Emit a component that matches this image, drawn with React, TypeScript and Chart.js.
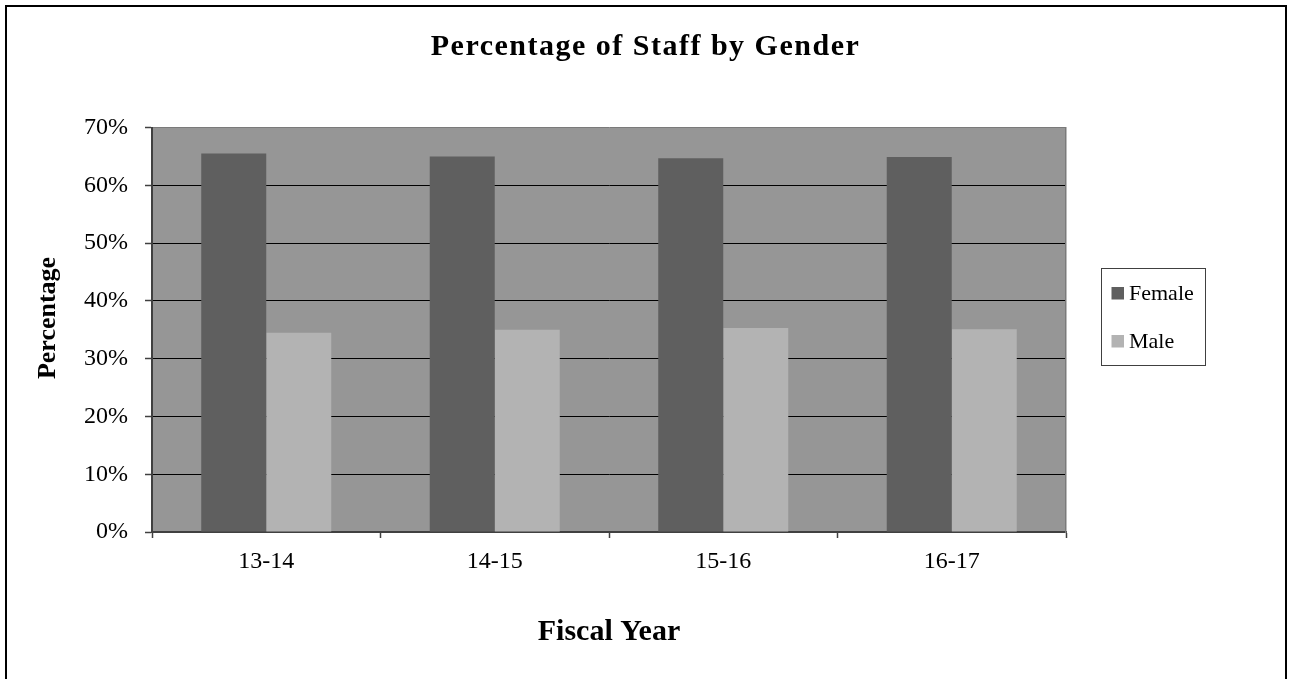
import React, { useEffect, useRef } from 'react';
import { Chart, registerables } from 'chart.js';

Chart.register(...registerables);

// Staff share by gender per fiscal year (percent)
const fiscalYears = ['13-14', '14-15', '15-16', '16-17'];
const femalePct = [65.5, 65.0, 64.7, 64.9];
const malePct = [34.5, 35.0, 35.3, 35.1];
const seriesNames = ['Female', 'Male'];
const chartTitle = 'Percentage of Staff by Gender';
const yAxisTitle = 'Percentage';
const xAxisTitle = 'Fiscal Year';

const W = 1289;
const H = 679;
const SERIF = "'Liberation Serif', 'Times New Roman', serif";

// White page with the black outer frame and the grey plot background
const backdropPlugin = {
  id: 'backdrop',
  beforeDraw(chart: any) {
    const { ctx, chartArea } = chart;
    ctx.save();
    ctx.fillStyle = '#ffffff';
    ctx.fillRect(0, 0, chart.width, chart.height);
    ctx.strokeStyle = '#000000';
    ctx.lineWidth = 2;
    ctx.strokeRect(6, 6, 1280, chart.height + 20);
    ctx.fillStyle = '#969696';
    ctx.fillRect(
      chartArea.left,
      chartArea.top,
      chartArea.right - chartArea.left,
      chartArea.bottom - chartArea.top
    );
    ctx.restore();
  },
};

// Chart heading and the vertical axis caption
const captionsPlugin = {
  id: 'captions',
  afterDraw(chart: any) {
    const { ctx } = chart;
    ctx.save();
    ctx.fillStyle = '#000000';
    ctx.textAlign = 'center';
    ctx.textBaseline = 'middle';
    ctx.font = `bold 30px ${SERIF}`;
    (ctx as any).letterSpacing = '1.5px';
    ctx.fillText(chartTitle, chart.width / 2 + 1, 47);
    (ctx as any).letterSpacing = '0px';
    ctx.font = `bold 26px ${SERIF}`;
    ctx.translate(48, 318);
    ctx.rotate(-Math.PI / 2);
    ctx.fillText(yAxisTitle, 0, 0);
    ctx.restore();
  },
};

// Boxed legend to the right of the plot
const boxedLegendPlugin = {
  id: 'boxedLegend',
  afterDraw(chart: any) {
    const { ctx, chartArea } = chart;
    const left = chartArea.right + 35;
    const top = 268.5;
    const boxW = 104;
    const boxH = 97;
    ctx.save();
    ctx.fillStyle = '#ffffff';
    ctx.fillRect(left, top, boxW, boxH);
    ctx.strokeStyle = '#404040';
    ctx.lineWidth = 1;
    ctx.strokeRect(left + 0.5, top, boxW, boxH);
    ctx.font = `22px ${SERIF}`;
    ctx.textBaseline = 'middle';
    ctx.textAlign = 'left';
    chart.data.datasets.forEach((ds: any, i: number) => {
      const cy = top + 25 + i * 48;
      ctx.fillStyle = ds.backgroundColor;
      ctx.fillRect(left + 10.5, cy - 6.5, 12.5, 12.5);
      ctx.fillStyle = '#000000';
      ctx.fillText(ds.label, left + 28, cy + 1);
    });
    ctx.restore();
  },
};

export default function App() {
  const canvasRef = useRef<HTMLCanvasElement | null>(null);

  useEffect(() => {
    const canvas = canvasRef.current;
    if (!canvas) return;

    const chart = new Chart(canvas, {
      type: 'bar',
      data: {
        labels: fiscalYears,
        datasets: [
          {
            label: seriesNames[0],
            data: femalePct,
            backgroundColor: '#5f5f5f',
            borderWidth: 0,
            categoryPercentage: 0.569,
            barPercentage: 1,
          },
          {
            label: seriesNames[1],
            data: malePct,
            backgroundColor: '#b3b3b3',
            borderWidth: 0,
            categoryPercentage: 0.569,
            barPercentage: 1,
          },
        ],
      },
      options: {
        responsive: false,
        animation: false,
        devicePixelRatio: 1,
        layout: { padding: { top: 127.5, left: 0, right: 0, bottom: 0 } },
        plugins: {
          legend: { display: false },
          tooltip: { enabled: false },
          title: { display: false },
        },
        scales: {
          x: {
            type: 'category',
            offset: true,
            grid: {
              offset: true,
              drawOnChartArea: false,
              drawTicks: true,
              tickLength: 6,
              tickColor: '#404040',
              tickWidth: 1.5,
            },
            border: { display: true, color: '#404040', width: 2 },
            ticks: {
              color: '#000000',
              font: { family: SERIF, size: 24 },
              padding: 9,
              maxRotation: 0,
            },
            title: {
              display: true,
              text: xAxisTitle,
              color: '#000000',
              font: { family: SERIF, size: 30, weight: 'bold' },
              padding: { top: 0, bottom: 29 },
            },
            afterFit(scale: any) {
              scale.height = 147;
            },
          },
          y: {
            type: 'linear',
            position: 'left',
            min: 0,
            max: 70,
            ticks: {
              stepSize: 10,
              color: '#000000',
              font: { family: SERIF, size: 24 },
              padding: 17,
              callback: (v: any) => `${v}%`,
            },
            grid: {
              color: (c: any) => (c.tick && c.tick.value === 70 ? '#7a7a7a' : '#000000'),
              lineWidth: 1,
              drawTicks: true,
              tickLength: 7,
              tickColor: '#404040',
              tickWidth: 1.5,
            },
            border: { display: true, color: '#404040', width: 2 },
            afterFit(scale: any) {
              scale.width = 152;
            },
          },
          yRight: {
            type: 'linear',
            position: 'right',
            display: true,
            grid: { display: false, drawTicks: false },
            ticks: { display: false },
            border: { display: true, color: '#7a7a7a', width: 1.5 },
            afterFit(scale: any) {
              scale.width = W - 1066;
            },
          },
        },
      },
      plugins: [backdropPlugin, captionsPlugin, boxedLegendPlugin],
    } as any);

    return () => {
      chart.destroy();
    };
  }, []);

  return (
    <div style={{ position: 'absolute', left: 0, top: 0, width: W, height: H, background: '#ffffff' }}>
      <canvas ref={canvasRef} width={W} height={H} style={{ display: 'block', width: W, height: H }} />
    </div>
  );
}
